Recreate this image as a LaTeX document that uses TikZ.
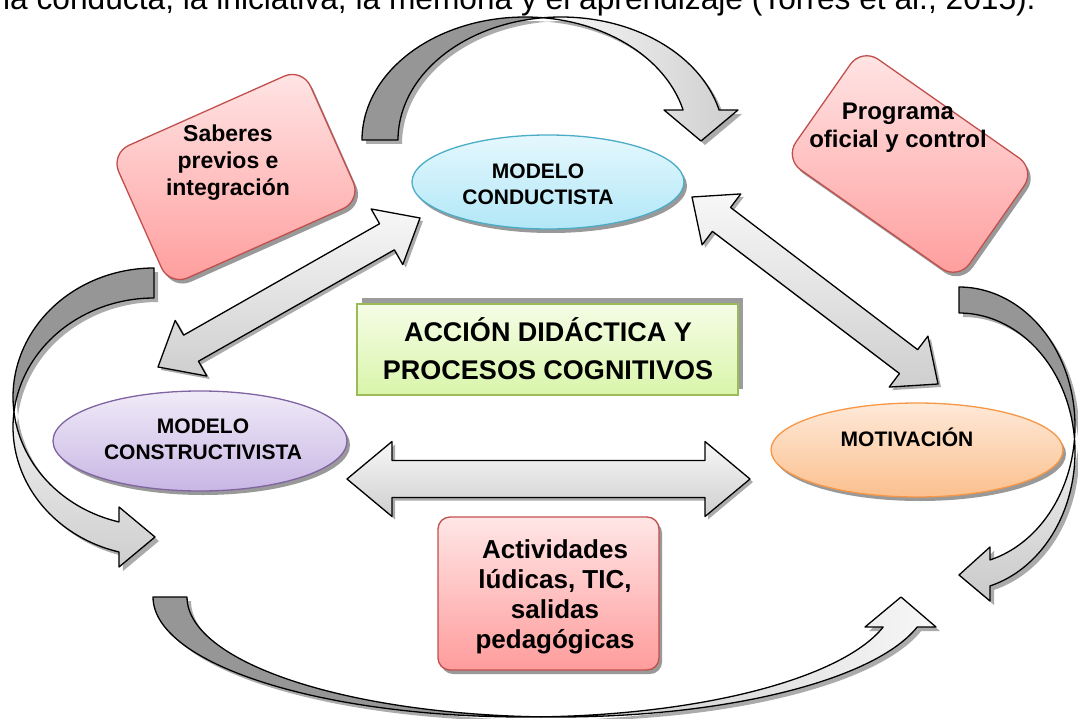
\documentclass[tikz,border=0pt]{standalone}
\usepackage{fontspec}
\setmainfont{Liberation Sans}
\usetikzlibrary{shapes.geometric,calc,shadows}
\definecolor{redB}{HTML}{C0504D}
\definecolor{redT}{HTML}{FFE6E6}
\definecolor{redBt}{HTML}{FF9C9C}
\definecolor{cyB}{HTML}{4BACC6}
\definecolor{cyT}{HTML}{E4F8FD}
\definecolor{cyBt}{HTML}{B2E7F8}
\definecolor{puB}{HTML}{8064A2}
\definecolor{puT}{HTML}{F0EBF8}
\definecolor{puBt}{HTML}{C8B6E4}
\definecolor{orB}{HTML}{F79646}
\definecolor{orT}{HTML}{FEE9D8}
\definecolor{orBt}{HTML}{FBC08E}
\definecolor{grB}{HTML}{9BBB59}
\definecolor{grT}{HTML}{F5FDE6}
\definecolor{grBt}{HTML}{D9F5AA}
\definecolor{darkband}{HTML}{969696}
\definecolor{shdgray}{HTML}{9C9C9C}

\newcommand\mkdbl[6]{%
  \coordinate (#1h1) at ($(#2)!#4!(#3)$);
  \coordinate (#1h2) at ($(#3)!#4!(#2)$);
  \coordinate (#1a) at ($(#1h1)!#5!90:(#3)$);
  \coordinate (#1b) at ($(#1h1)!#6!90:(#3)$);
  \coordinate (#1c) at ($(#1h2)!#6!-90:(#2)$);
  \coordinate (#1d) at ($(#1h2)!#5!-90:(#2)$);
  \coordinate (#1e) at ($(#1h2)!#5!90:(#2)$);
  \coordinate (#1f) at ($(#1h2)!#6!90:(#2)$);
  \coordinate (#1g) at ($(#1h1)!#6!-90:(#3)$);
  \coordinate (#1k) at ($(#1h1)!#5!-90:(#3)$);
}
\newcommand\drawdbl[3]{%
  \fill[shd, transform canvas={xshift=3pt,yshift=-3pt}] (#2) -- (#1a) -- (#1b) -- (#1c) -- (#1d) -- (#3) -- (#1e) -- (#1f) -- (#1g) -- (#1k) -- cycle;
  \path[edge, top color=gray!6, bottom color=gray!38] (#2) -- (#1a) -- (#1b) -- (#1c) -- (#1d) -- (#3) -- (#1e) -- (#1f) -- (#1g) -- (#1k) -- cycle;
}
\newcommand\twopart[4]{%
  \fill[shd, shift={(4,4)}] #2;
  \fill[shd, shift={(4,4)}] #4;
  \path[edge, #1] #2;
  \path[edge, #3] #4;
}

\begin{document}
\begin{tikzpicture}[x=1pt,y=-1pt,
  edge/.style={draw=black, line width=1.3pt, line join=round},
  shd/.style={fill=black, opacity=0.33},
  lbl/.style={font=\bfseries, align=center, inner sep=0pt},
  shbox/.style={drop shadow={shadow xshift=3pt, shadow yshift=-4pt, opacity=0.4, fill=black}},
  redbox/.style={shbox, draw=redB, line width=1.3pt, top color=redT, bottom color=redBt},
  ell/.style={shbox, ellipse, line width=1.3pt, inner sep=0pt},
]
\useasboundingbox (0,0) rectangle (1078,719);

% top text (cut off)
\node[anchor=base west, inner sep=0pt, font=\fontsize{31.7pt}{36pt}\selectfont] (toptext) at (3,10)
  {la conducta, la iniciativa, la memoria y el aprendizaje (Torres et al., 2015).};

% curved arrow: top
\twopart{fill=darkband}
  {plot[domain=180:276.3,samples=50] ({525+163*cos(\x)},{140+123*sin(\x)}) -- plot[domain=263.7:180,samples=50] ({561+163*cos(\x)},{140+123*sin(\x)}) -- cycle}
  {left color=gray!5, right color=gray!38}
  {plot[domain=263.7:345.9,samples=50] ({561+163*cos(\x)},{140+123*sin(\x)}) -- (738,110) -- (701,141) -- (664,110) -- plot[domain=345.9:276.3,samples=50] ({525+163*cos(\x)},{140+123*sin(\x)}) -- cycle}

% curved arrow: left
\twopart{fill=darkband}
  {plot[domain=270:173.3,samples=50] ({154+141*cos(\x)},{397+129*sin(\x)}) -- plot[domain=186.7:270,samples=50] ({154+141*cos(\x)},{427+129*sin(\x)}) -- cycle}
  {top color=gray!12, bottom color=gray!38}
  {plot[domain=186.7:104.4,samples=50] ({154+141*cos(\x)},{427+129*sin(\x)}) -- (119,567) -- (155,537) -- (119,507) -- plot[domain=104.4:173.3,samples=50] ({154+141*cos(\x)},{397+129*sin(\x)}) -- cycle}

% curved arrow: right
\twopart{fill=darkband}
  {plot[domain=270:365.4,samples=50] ({959+116*cos(\x)},{426+139*sin(\x)}) -- plot[domain=354.6:270,samples=50] ({959+116*cos(\x)},{452+139*sin(\x)}) -- cycle}
  {top color=gray!12, bottom color=gray!42}
  {plot[domain=-5.4:74.5,samples=50] ({959+116*cos(\x)},{452+139*sin(\x)}) -- (990,601) -- (959,575) -- (990,547) -- plot[domain=74.5:5.4,samples=50] ({959+116*cos(\x)},{426+139*sin(\x)}) -- cycle}

% curved arrow: bottom
\twopart{fill=darkband}
  {plot[domain=180:87.4,samples=60] ({524+371*cos(\x)},{597+120*sin(\x)}) -- plot[domain=92.6:180,samples=60] ({558+371*cos(\x)},{597+120*sin(\x)}) -- cycle}
  {left color=gray!45, right color=gray!6}
  {plot[domain=87.4:14.5,samples=60] ({524+371*cos(\x)},{597+120*sin(\x)}) -- (865,627) -- (901,597) -- (936,627) -- plot[domain=14.5:92.6,samples=60] ({558+371*cos(\x)},{597+120*sin(\x)}) -- cycle}

% boxes and ellipses
\node[redbox, rounded corners=20pt, rotate=24, minimum width=210pt, minimum height=145pt] (sab) at (236,177) {};
\node[redbox, rounded corners=20pt, rotate=-35, minimum width=212pt, minimum height=135pt] (prog) at (910,164) {};
\node[redbox, rounded corners=12pt, minimum width=221pt, minimum height=153pt] (act) at (548.5,593.5) {};
\node[draw=grB, line width=1.3pt, top color=grT, bottom color=grBt, minimum width=381pt, minimum height=91pt,
      drop shadow={shadow xshift=5pt, shadow yshift=6pt, opacity=1, fill=shdgray}] (acc) at (547.5,349.5) {};
\node[ell, draw=cyB, top color=cyT, bottom color=cyBt, minimum width=272pt, minimum height=94pt] (cond) at (548,182) {};
\node[ell, draw=puB, top color=puT, bottom color=puBt, minimum width=294pt, minimum height=100pt] (cons) at (200,441) {};
\node[ell, draw=orB, top color=orT, bottom color=orBt, minimum width=292pt, minimum height=94pt] (mot) at (917,450) {};

% straight double arrows (connectors)
\coordinate (pA1) at (158,367); \coordinate (pA2) at (420,218);
\coordinate (pB1) at (692,197); \coordinate (pB2) at (938,384);
\coordinate (pC1) at (347,479); \coordinate (pC2) at (750,479);
\mkdbl{A}{pA1}{pA2}{38pt}{32pt}{15pt}
\mkdbl{B}{pB1}{pB2}{37pt}{32pt}{15pt}
\mkdbl{C}{pC1}{pC2}{45pt}{37.5pt}{18.5pt}
\drawdbl{A}{pA1}{pA2}
\drawdbl{B}{pB1}{pB2}
\drawdbl{C}{pC1}{pC2}

% labels
\node[lbl, font=\fontsize{23pt}{27pt}\selectfont\bfseries] (tsab) at (228,163) {Saberes\\previos e\\integración};
\node[lbl, font=\fontsize{24pt}{28pt}\selectfont\bfseries] (tprog) at (898,128) {Programa\\oficial y control};
\node[lbl, font=\fontsize{21pt}{26pt}\selectfont\bfseries] (tcond) at (538,184) {MODELO\\CONDUCTISTA};
\node[lbl, font=\fontsize{21pt}{26pt}\selectfont\bfseries] (tcons) at (203,439) {MODELO\\CONSTRUCTIVISTA};
\node[lbl, font=\fontsize{21pt}{26pt}\selectfont\bfseries] (tmot) at (907,437) {MOTIVACIÓN};
\node[lbl, font=\fontsize{27pt}{38pt}\selectfont\bfseries] (tacc) at (548,349) {ACCIÓN DIDÁCTICA Y\\PROCESOS COGNITIVOS};
\node[lbl, font=\fontsize{26pt}{30pt}\selectfont\bfseries] (tact) at (555,597) {Actividades\\lúdicas, TIC,\\salidas\\pedagógicas};
\end{tikzpicture}
\end{document}
